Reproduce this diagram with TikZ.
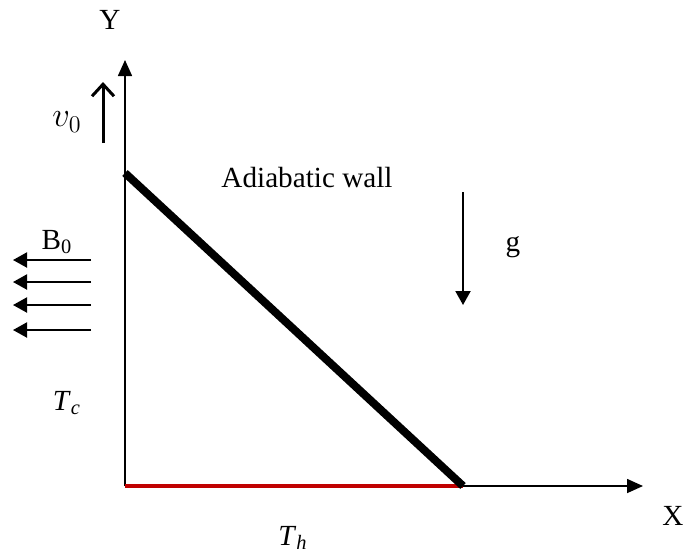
\documentclass[tikz,border=0pt]{standalone}
\usepackage{fontspec}
\setmainfont{Liberation Serif}
\usetikzlibrary{arrows.meta}
\definecolor{hotred}{RGB}{192,0,0}

\begin{document}
\begin{tikzpicture}[
  x=0.5pt, y=-0.5pt,
  font=\fontsize{14.6}{17}\selectfont,
  axis/.style={line width=0.8pt, -{Triangle[length=8pt,width=7pt]}},
  field/.style={line width=1pt, -{Triangle[length=7pt,width=7.5pt]}},
  lbl/.style={inner sep=0pt},
]
\useasboundingbox (0,0) rectangle (683,558);

% corner points of the cavity
\coordinate (O)    at (125,486);
\coordinate (Ytip) at (125,60);
\coordinate (Xtip) at (643,486);
\coordinate (Wtop) at (125,173);
\coordinate (Wend) at (463,486);

% axes
\draw[axis] (O) -- (Ytip);
\draw[axis] (O) -- (Xtip);
\node[lbl] (Ylab) at (110,20) {Y};
\node[lbl] (Xlab) at (673,516) {X};

% walls
\draw[hotred, line width=2pt] (O) -- (Wend);
\draw[line width=4pt] (Wtop) -- (Wend);
\node[lbl] (wall) at (307,178) {Adiabatic wall};

% lid velocity
\coordinate (v0a) at (103,143);
\coordinate (v0b) at (103,82);
\draw[line width=1.5pt, -{Straight Barb[length=6pt,width=11pt]}] (v0a) -- (v0b);
\node[lbl] (v0) at (67,122) {\fontsize{17}{19}\selectfont$v_0$};

% magnetic field
\node[lbl] (B0) at (57,242) {B\textsubscript{0}};
\foreach \yy [count=\i] in {260,282,305,330}{
  \coordinate (Bs\i) at (91,\yy);
  \coordinate (Be\i) at (13,\yy);
  \draw[field] (Bs\i) -- (Be\i);
}

% gravity
\coordinate (ga) at (463,192);
\coordinate (gb) at (463,305);
\draw[field] (ga) -- (gb);
\node[lbl] (g) at (513,247) {g};

% temperatures
\node[lbl] (Tc) at (67,403) {\textit{T}\textsubscript{\textit{c}}};
\node[lbl] (Th) at (293,538) {\textit{T}\textsubscript{\textit{h}}};
\end{tikzpicture}
\end{document}
